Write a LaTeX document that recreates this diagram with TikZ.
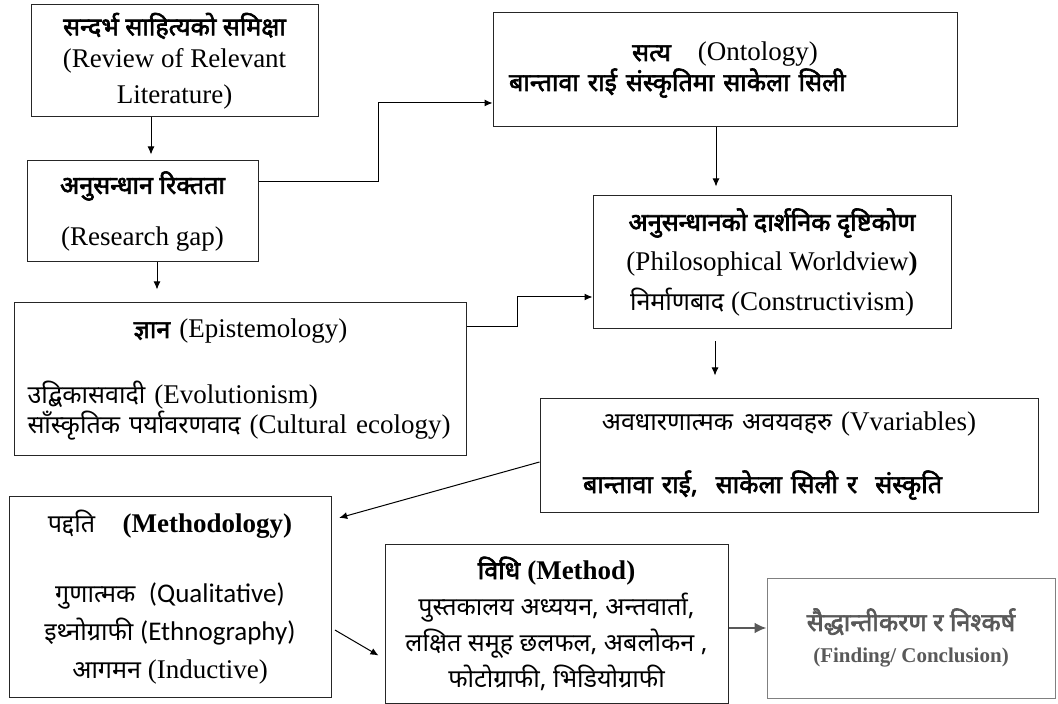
\documentclass[tikz,border=0pt]{standalone}
\usepackage{fontspec}
\setmainfont{Liberation Serif}
\newfontfamily\deva[Script=Devanagari,Scale=0.93,BoldFont={Noto Sans},BoldFeatures={FakeBold=2.5}]{Noto Sans}
\newfontfamily\calib{Carlito}
\usetikzlibrary{arrows.meta,calc}
\tikzset{
frame/.style={
draw=black!85,
line width=0.5pt,
align=center,
font=\fontsize{13.5}{19}\selectfont
},
findframe/.style={
frame,
draw=black!50,
text=black!65
},
arrow/.style={
-{Latex[length=4pt,width=3.5pt]},
line width=0.5pt
},
grayarrow/.style={
-{Latex[length=6pt,width=5.5pt]},
line width=1.2pt,
black!65
}
}

\begin{document}
\begin{tikzpicture}[x=0.5pt,y=-0.5pt]
\useasboundingbox (0,0) rectangle (1058,704);

\node[frame,minimum width=143.5pt,minimum height=56pt,inner ysep=1pt](lit) at (174.5,61)
{{\deva\bfseries सन्दर्भ साहित्यको समिक्षा}\\[-3pt] (Review of Relevant\\[-1pt] Literature)};
\node[frame,minimum width=115.5pt,minimum height=50.5pt](gap) at (142.5,211.5)
{{\deva\bfseries अनुसन्धान रिक्तता}\\[7pt] (Research gap)};
\node[frame,align=left,text width=216pt,inner xsep=8pt,minimum height=57pt](onto) at (725,70)
{{\centering{\deva\bfseries सत्य}\quad (Ontology)\par}\vspace{-4pt}{\deva\bfseries बान्तावा राई संस्कृतिमा साकेला सिली}};
\node[frame,align=left,text width=213pt,inner xsep=6.5pt,minimum height=76.5pt](epis) at (240.5,379.5)
{{\centering{\deva\bfseries ज्ञान} (Epistemology)\par}\vspace{13.5pt}{\deva उद्बिकासवादी} (Evolutionism)\\[-4pt]{\deva साँस्कृतिक पर्यावरणवाद} (Cultural ecology)};
\node[frame,minimum width=179pt,minimum height=66.5pt](phil) at (772,262.5)
{{\deva\bfseries अनुसन्धानको दार्शनिक दृष्टिकोण}\\[1pt] (Philosophical Worldview\textbf{)}\\[1pt] {\deva निर्माणबाद} (Constructivism)};
\node[frame,align=left,text width=236pt,inner xsep=6.5pt,minimum height=56.5pt](vars) at (789,455.5)
{{\centering{\deva अवधारणात्मक अवयवहरु} (Vvariables)\par}\vspace{12.5pt}\hspace*{15pt}{\deva\bfseries बान्तावा राई,\ \ साकेला सिली र\ \ संस्कृति}};
\node[frame,minimum width=161pt,minimum height=100pt](meth) at (170,597)
{{\deva पद्दति}\quad\textbf{(Methodology)}\\[16pt] {\deva गुणात्मक}\ \ {\calib (Qualitative)}\\ {\deva इथ्नोग्राफी} {\calib (Ethnography)}\\ {\deva आगमन} (Inductive)};
\node[frame,minimum width=171.5pt,minimum height=79.5pt](mthd) at (556.5,623.5)
{{\deva\bfseries विधि} \textbf{(Method)}\\[-1pt] {\deva पुस्तकालय अध्ययन, अन्तवार्ता,}\\[-1pt] {\deva लक्षित समूह छलफल, अबलोकन ,}\\[-1pt] {\deva फोटोग्राफी, भिडियोग्राफी}};
\node[findframe,minimum width=144pt,minimum height=60pt](find) at (911,638)
{{\deva\bfseries सैद्धान्तीकरण र निश्कर्ष}\\[-3pt] {\fontsize{10.5}{12}\selectfont\bfseries (Finding/ Conclusion)}};

% bends of the elbow lines
\coordinate (k1) at (378,103);
\coordinate (k2) at (517,297);

\draw[arrow,shorten >=3pt](lit.south -| 151,0)--(gap.north -| 151,0);
\draw[arrow](gap.east |- 0,182) -| (k1) -- (onto.west |- k1);
\draw[arrow,shorten >=6.5pt](gap.south -| 157,0)--(epis.north -| 157,0);
\draw[arrow](epis.east |- 0,327) -| (k2) -- (phil.west |- k2);
\draw[arrow,shorten >=4.5pt](onto.south -| 716,0)--(phil.north -| 716,0);
\draw[arrow,shorten <=6pt,shorten >=11.5pt](phil.south -| 715,0)--(vars.north -| 715,0);
\draw[arrow,shorten >=4pt](vars.west |- 0,462)--(meth.east |- 0,520);
\draw[arrow,shorten <=2pt,shorten >=3.5pt](meth.east |- 0,628)--(mthd.west |- 0,659);
\draw[grayarrow](mthd.east |- 0,628)--(find.west |- 0,628);
\end{tikzpicture}
\end{document}
